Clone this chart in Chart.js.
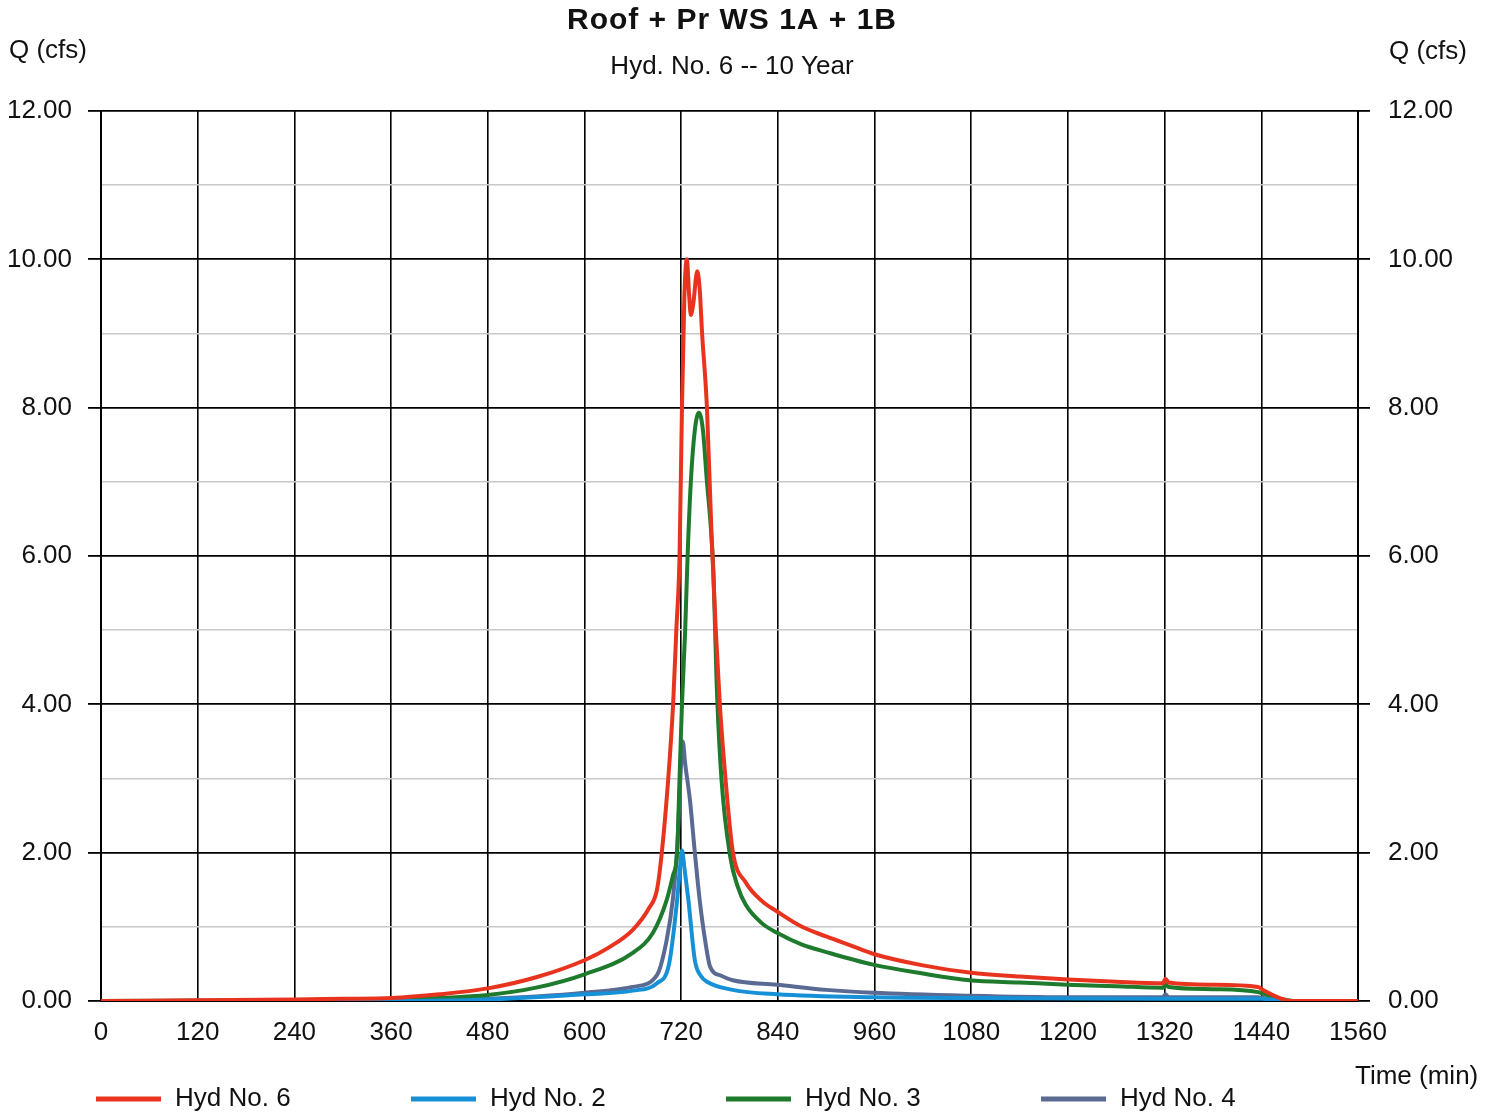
<!DOCTYPE html>
<html>
<head>
<meta charset="utf-8">
<script src="https://cdn.jsdelivr.net/npm/chart.js@4.4.1/dist/chart.umd.min.js"></script>
<style>
  body { margin: 0; background: #fff; }
  canvas { display: block; }
</style>
</head>
<body>
<canvas id="myChart" width="1497" height="1114"></canvas>
<script>
// hydrograph values (time in min, Q in cfs)
var hyd6Time = [0, 120, 240, 300, 360, 420, 480, 540, 600, 630, 660, 680, 690, 696, 704, 710, 714, 718, 721, 724, 727, 730, 732, 735, 740, 743, 746, 752, 758, 763, 768, 775, 784, 800, 820, 840, 870, 900, 930, 960, 1020, 1080, 1140, 1200, 1260, 1318, 1321, 1325, 1380, 1436, 1442, 1463, 1480, 1560];
var hyd6Q = [0, 0.01, 0.02, 0.03, 0.04, 0.09, 0.17, 0.32, 0.55, 0.72, 0.96, 1.25, 1.5, 2.0, 3.0, 4.0, 5.0, 6.0, 8.0, 9.5, 10.0, 9.5, 9.25, 9.4, 9.84, 9.6, 9.0, 8.0, 6.2, 5.0, 4.0, 3.0, 2.02, 1.6, 1.35, 1.2, 1.0, 0.87, 0.75, 0.63, 0.48, 0.38, 0.33, 0.29, 0.26, 0.24, 0.3, 0.25, 0.22, 0.19, 0.15, 0.04, 0, 0];

var hyd2Time = [0, 360, 480, 600, 660, 690, 705, 715, 719, 721, 724, 729, 737, 745, 752, 784, 839, 958, 1100, 1320, 1440, 1460, 1480, 1560];
var hyd2Q = [0, 0, 0.02, 0.09, 0.14, 0.24, 0.5, 1.36, 1.85, 2.03, 1.8, 1.36, 0.55, 0.33, 0.26, 0.15, 0.09, 0.05, 0.04, 0.03, 0.03, 0.01, 0, 0];

var hyd3Time = [0, 240, 360, 420, 480, 540, 600, 660, 685, 702, 710, 715, 718, 721, 725, 728, 732, 737, 742, 747, 752, 756, 760, 764, 770, 781, 790, 800, 820, 839, 870, 900, 958, 1020, 1078, 1140, 1199, 1260, 1318, 1321, 1325, 1380, 1436, 1442, 1463, 1480, 1560];
var hyd3Q = [0, 0.01, 0.02, 0.04, 0.08, 0.18, 0.36, 0.65, 0.92, 1.36, 1.7, 2.0, 3.0, 4.0, 5.0, 6.0, 7.0, 7.7, 7.93, 7.7, 7.0, 6.5, 5.8, 4.3, 3.0, 1.94, 1.55, 1.3, 1.05, 0.92, 0.76, 0.66, 0.49, 0.37, 0.28, 0.25, 0.22, 0.2, 0.18, 0.22, 0.19, 0.16, 0.12, 0.1, 0.03, 0, 0];

var hyd4Time = [0, 240, 360, 480, 540, 600, 660, 690, 702, 710, 715, 719, 722, 725, 731, 737, 743, 750, 756, 770, 784, 839, 900, 958, 1078, 1199, 1318, 1321, 1325, 1436, 1442, 1463, 1480, 1560];
var hyd4Q = [0, 0, 0.01, 0.03, 0.06, 0.11, 0.19, 0.35, 0.82, 1.4, 2.04, 3.0, 3.5, 3.2, 2.7, 2.0, 1.36, 0.8, 0.46, 0.34, 0.28, 0.22, 0.15, 0.11, 0.07, 0.05, 0.05, 0.09, 0.05, 0.05, 0.04, 0.01, 0, 0];

var seriesNames = ['Hyd No. 6', 'Hyd No. 2', 'Hyd No. 3', 'Hyd No. 4'];
var seriesColors = ['#e8341f', '#1690d6', '#1e7a2c', '#5a6a92'];

var chartTitle = 'Roof + Pr WS 1A + 1B';
var chartSubtitle = 'Hyd. No. 6 -- 10 Year';

var FONT = '"Liberation Sans", Arial, sans-serif';

function toPoints(times, values) {
    return times.map(function (t, i) { return { x: t, y: values[i] }; });
}

function makeDataset(i, times, values) {
    return {
        label: seriesNames[i],
        data: toPoints(times, values),
        borderColor: seriesColors[i],
        backgroundColor: seriesColors[i],
        borderWidth: 4,
        pointRadius: 0,
        fill: false,
        cubicInterpolationMode: 'monotone',
        order: i
    };
}

function qLabel(v) {
    return v % 2 === 0 ? v.toFixed(2) : '';
}

var yGridColor = function (c) {
    return c.tick && c.tick.value % 2 !== 0 ? '#c8c8c8' : '#000';
};
var yTickColor = function (c) {
    return c.tick && c.tick.value % 2 !== 0 ? 'rgba(0,0,0,0)' : '#000';
};

// title, axis captions and legend drawn by hand so they sit where the original has them
var decorations = {
    id: 'decorations',
    beforeDraw: function (chart) {
        var c = chart.ctx;
        c.save();
        c.fillStyle = '#fff';
        c.fillRect(0, 0, chart.width, chart.height);
        c.restore();
    },
    afterDraw: function (chart) {
        var c = chart.ctx;
        c.save();
        c.fillStyle = '#111';
        c.textBaseline = 'middle';

        c.textAlign = 'center';
        c.font = 'bold 30px ' + FONT;
        c.letterSpacing = '1px';
        c.fillText(chartTitle, 732, 21);
        c.letterSpacing = '0px';
        c.font = '26px ' + FONT;
        c.fillText(chartSubtitle, 732, 67);

        c.textAlign = 'left';
        c.fillText('Q (cfs)', 9, 51);
        c.fillText('Q (cfs)', 1389, 52);
        c.fillText('Time (min)', 1355, 1077);

        var ds = chart.data.datasets;
        for (var i = 0; i < ds.length; i++) {
            var x0 = 96 + i * 315;
            c.strokeStyle = ds[i].borderColor;
            c.lineWidth = 5;
            c.beginPath();
            c.moveTo(x0, 1099);
            c.lineTo(x0 + 65, 1099);
            c.stroke();
            c.fillStyle = '#111';
            c.fillText(ds[i].label, x0 + 79, 1099);
        }
        c.restore();
    }
};

var ctx = document.getElementById('myChart').getContext('2d');
var myChart = new Chart(ctx, {
    type: 'line',
    data: {
        datasets: [
            makeDataset(0, hyd6Time, hyd6Q),
            makeDataset(1, hyd2Time, hyd2Q),
            makeDataset(2, hyd3Time, hyd3Q),
            makeDataset(3, hyd4Time, hyd4Q)
        ]
    },
    options: {
        responsive: false,
        animation: false,
        devicePixelRatio: 1,
        layout: { padding: { top: 111, left: 0, right: 0, bottom: 0 } },
        plugins: {
            legend: { display: false },
            title: { display: false },
            tooltip: { enabled: false }
        },
        scales: {
            x: {
                type: 'linear',
                min: 0,
                max: 1560,
                afterFit: function (s) { s.height = 113; },
                border: { color: '#000', width: 2 },
                grid: { color: '#000', lineWidth: 1.6, drawTicks: false },
                ticks: {
                    stepSize: 120,
                    padding: 16,
                    color: '#111',
                    font: { family: FONT, size: 26 },
                    maxRotation: 0,
                    callback: function (v) { return String(v); }
                }
            },
            y: {
                position: 'left',
                min: 0,
                max: 12,
                afterFit: function (s) { s.width = 101; },
                border: { color: '#000', width: 2 },
                grid: {
                    color: yGridColor,
                    tickColor: yTickColor,
                    lineWidth: function (c) { return c.tick && c.tick.value % 2 !== 0 ? 1.5 : 1.8; },
                    tickLength: 13
                },
                ticks: {
                    stepSize: 1,
                    padding: 16,
                    color: '#111',
                    font: { family: FONT, size: 26 },
                    callback: qLabel
                }
            },
            y2: {
                position: 'right',
                min: 0,
                max: 12,
                afterFit: function (s) { s.width = 139; },
                border: { color: '#000', width: 2 },
                grid: {
                    drawOnChartArea: false,
                    tickColor: yTickColor,
                    lineWidth: 1.8,
                    tickLength: 12
                },
                ticks: {
                    stepSize: 1,
                    padding: 18,
                    color: '#111',
                    font: { family: FONT, size: 26 },
                    callback: qLabel
                }
            }
        }
    },
    plugins: [decorations]
});
</script>
</body>
</html>
